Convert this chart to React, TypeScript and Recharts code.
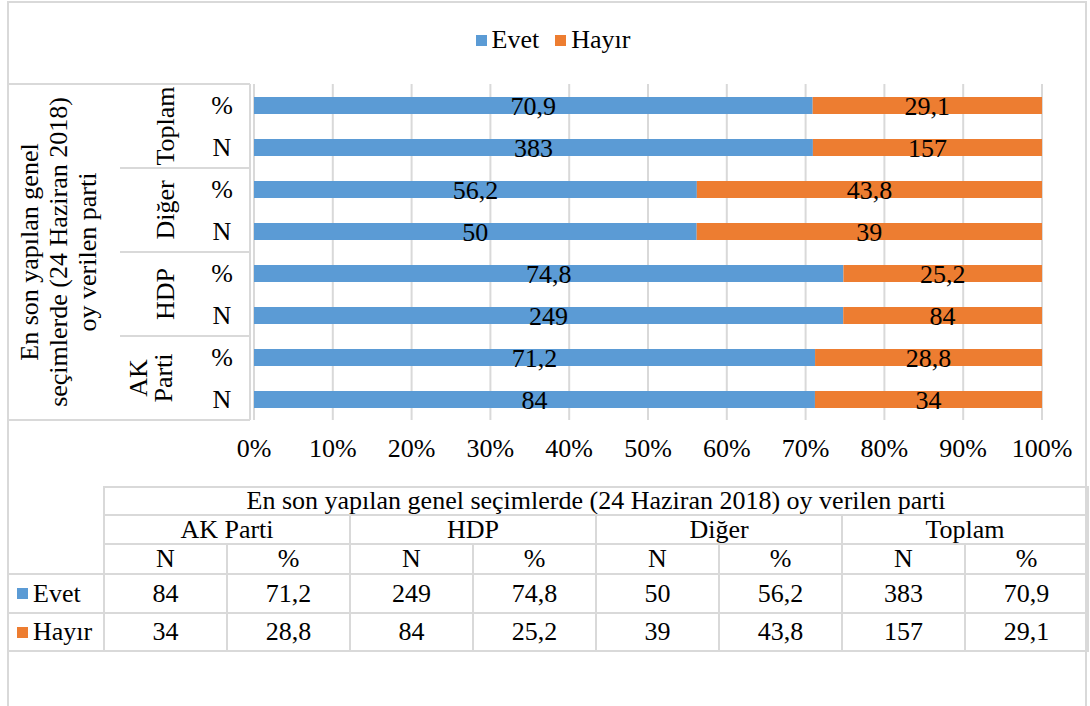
import React from 'react';
import { BarChart, Bar, XAxis, YAxis, CartesianGrid, Legend, LabelList } from 'recharts';

// table order (left to right)
const parties = ['AK Parti', 'HDP', 'Diğer', 'Toplam'];
const evetN = [84, 249, 50, 383];
const evetPct = [71.2, 74.8, 56.2, 70.9];
const hayirN = [34, 84, 39, 157];
const hayirPct = [28.8, 25.2, 43.8, 29.1];
const xTicks = [0, 0.1, 0.2, 0.3, 0.4, 0.5, 0.6, 0.7, 0.8, 0.9, 1];

const TITLE = 'En son yapılan genel seçimlerde (24 Haziran 2018) oy verilen parti';
const TITLE_LINES = ['En son yapılan genel', 'seçimlerde (24 Haziran 2018)', 'oy verilen parti'];
const GROUP_LINES: Record<string, string[]> = {
    'AK Parti': ['AK', 'Parti'],
};

const BLUE = '#5B9BD5';
const ORANGE = '#ED7D31';
const GRID = '#d9d9d9';
const FONT = '"Liberation Serif", "Times New Roman", serif';
const FS = 26;

const fmt = (v: number) => String(v).replace('.', ',');

// chart rows, top to bottom: Toplam %, Toplam N, ..., AK Parti N
const rows = parties.slice().reverse().flatMap(p => {
    const i = parties.indexOf(p);
    return [
        { key: `${p}|%`, party: p, kind: '%', evet: evetPct[i], hayir: hayirPct[i], evetLabel: fmt(evetPct[i]), hayirLabel: fmt(hayirPct[i]) },
        { key: `${p}|N`, party: p, kind: 'N', evet: evetN[i], hayir: hayirN[i], evetLabel: fmt(evetN[i]), hayirLabel: fmt(hayirN[i]) },
    ];
});

const RowTick = (props: any) => {
    const { y, payload, index } = props;
    const half = payload?.offset || 21;
    const [party, kind] = String(payload.value).split('|');
    const isFirst = kind === '%';
    const lines = GROUP_LINES[party] || [party];
    const gx = lines.length > 1 ? 138 : 165;
    const gy = y + half;
    return (
        <g>
            <text x={222} y={y} textAnchor="middle" dominantBaseline="central" fontSize={FS} fill="#000" fontFamily={FONT}>{kind}</text>
            <line x1={250} x2={250} y1={y - half} y2={y + half} stroke={GRID} strokeWidth={2} />
            {isFirst && (
                <>
                    <line x1={index === 0 ? 8 : 120} x2={250} y1={y - half} y2={y - half} stroke={GRID} strokeWidth={2} />
                    <text transform={`rotate(-90, ${gx}, ${gy})`} x={gx} y={gy} textAnchor="middle" dominantBaseline="central" fontSize={FS} fill="#000" fontFamily={FONT}>
                        {lines.map((l, i) => (
                            <tspan key={l} x={gx} dy={i === 0 ? 0 : 25}>{l}</tspan>
                        ))}
                    </text>
                </>
            )}
            {index === rows.length - 1 && (
                <line x1={8} x2={250} y1={y + half} y2={y + half} stroke={GRID} strokeWidth={2} />
            )}
        </g>
    );
};

const TitleLabel = (props: any) => {
    const vb = props.viewBox || {};
    const cy = (vb.y || 0) + (vb.height || 0) / 2;
    const cx = 29;
    return (
        <text transform={`rotate(-90, ${cx}, ${cy})`} x={cx} y={cy} textAnchor="middle" dominantBaseline="central" fontSize={FS} fill="#000" fontFamily={FONT}>
            {TITLE_LINES.map((l, i) => (
                <tspan key={l} x={cx} dy={i === 0 ? 0 : 29}>{l}</tspan>
            ))}
        </text>
    );
};

const LegendSwatch = ({ color }: { color: string }) => (
    <span style={{ display: 'inline-block', width: 11, height: 11, background: color, marginRight: 5, verticalAlign: 'middle', position: 'relative', top: -2 }} />
);

const TopLegend = (props: any) => {
    const items = props.payload || [];
    return (
        <div style={{ height: 24, lineHeight: '24px', fontSize: FS, fontFamily: FONT, color: '#000', textAlign: 'center', paddingLeft: 16, whiteSpace: 'nowrap' }}>
            {items.map((it: any, i: number) => (
                <span key={it.value} style={{ marginLeft: i === 0 ? 0 : 16 }}>
                    <LegendSwatch color={it.color} />{it.value}
                </span>
            ))}
        </div>
    );
};

const cell: React.CSSProperties = {
    border: `2px solid ${GRID}`,
    textAlign: 'center',
    padding: 0,
    fontSize: FS,
    lineHeight: '24px',
    overflow: 'hidden',
    whiteSpace: 'nowrap',
};

export default function App() {
    return (
        <div style={{ position: 'absolute', left: 0, top: 0, width: 1090, height: 706, background: '#fff', fontFamily: FONT, overflow: 'hidden' }}>
            <div style={{ position: 'absolute', left: 7, top: 1, width: 1080, height: 708, border: `2px solid ${GRID}`, boxSizing: 'border-box' }} />
            <div style={{ position: 'absolute', left: 0, top: 0 }}>
                <BarChart
                    width={1090}
                    height={470}
                    data={rows}
                    layout="vertical"
                    stackOffset="expand"
                    barSize={17}
                    margin={{ top: 60, right: 48, bottom: 0, left: 0 }}
                >
                    <CartesianGrid horizontal={false} stroke={GRID} strokeWidth={2} />
                    <XAxis
                        type="number"
                        domain={[0, 1]}
                        ticks={xTicks}
                        tickFormatter={(v: number) => `${Math.round(v * 100)}%`}
                        axisLine={false}
                        tickLine={false}
                        tickMargin={13}
                        height={50}
                        tick={{ fontSize: FS, fill: '#000', fontFamily: FONT }}
                    />
                    <YAxis
                        type="category"
                        dataKey="key"
                        width={254}
                        axisLine={false}
                        tickLine={false}
                        interval={0}
                        tick={<RowTick />}
                        label={{ content: <TitleLabel /> }}
                    />
                    <Legend
                        verticalAlign="top"
                        align="center"
                        content={<TopLegend />}
                        wrapperStyle={{ top: 28, left: 0, width: 1090 }}
                    />
                    <Bar dataKey="evet" name="Evet" stackId="a" fill={BLUE} isAnimationActive={false}>
                        <LabelList dataKey="evetLabel" position="center" fill="#000" fontSize={FS} fontFamily={FONT} />
                    </Bar>
                    <Bar dataKey="hayir" name="Hayır" stackId="a" fill={ORANGE} isAnimationActive={false}>
                        <LabelList dataKey="hayirLabel" position="center" fill="#000" fontSize={FS} fontFamily={FONT} />
                    </Bar>
                </BarChart>
            </div>
            <table style={{ position: 'absolute', left: 8, top: 486, width: 1080, borderCollapse: 'collapse', tableLayout: 'fixed', fontFamily: FONT, color: '#000' }}>
                <colgroup>
                    <col style={{ width: 96 }} />
                    {parties.flatMap(p => [<col key={p + 'n'} style={{ width: 123 }} />, <col key={p + 'p'} style={{ width: 123 }} />])}
                </colgroup>
                <tbody>
                    <tr style={{ height: 28 }}>
                        <td rowSpan={3} style={{ border: 'none' }} />
                        <td colSpan={8} style={cell}>{TITLE}</td>
                    </tr>
                    <tr style={{ height: 29 }}>
                        {parties.map(p => <td key={p} colSpan={2} style={cell}>{p}</td>)}
                    </tr>
                    <tr style={{ height: 30 }}>
                        {parties.flatMap(p => [<td key={p + 'n'} style={cell}>N</td>, <td key={p + 'p'} style={cell}>%</td>])}
                    </tr>
                    <tr style={{ height: 39 }}>
                        <td style={{ ...cell, textAlign: 'left', paddingLeft: 9, borderLeft: 'none' }}><LegendSwatch color={BLUE} />Evet</td>
                        {parties.flatMap((p, i) => [<td key={p + 'n'} style={cell}>{fmt(evetN[i])}</td>, <td key={p + 'p'} style={cell}>{fmt(evetPct[i])}</td>])}
                    </tr>
                    <tr style={{ height: 38 }}>
                        <td style={{ ...cell, textAlign: 'left', paddingLeft: 9, borderLeft: 'none' }}><LegendSwatch color={ORANGE} />Hayır</td>
                        {parties.flatMap((p, i) => [<td key={p + 'n'} style={cell}>{fmt(hayirN[i])}</td>, <td key={p + 'p'} style={cell}>{fmt(hayirPct[i])}</td>])}
                    </tr>
                </tbody>
            </table>
        </div>
    );
}
